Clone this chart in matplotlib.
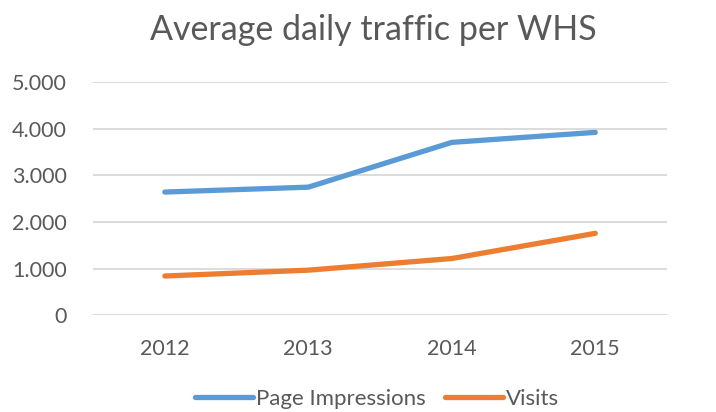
import matplotlib
matplotlib.use("Agg")
import matplotlib.pyplot as plt
from matplotlib.ticker import FuncFormatter

years = ["2012", "2013", "2014", "2015"]
page_impressions = [2640, 2745, 3705, 3920]
visits = [840, 965, 1215, 1755]
yticks = [0, 1000, 2000, 3000, 4000, 5000]

plt.rcParams['font.family'] = ['Lato', 'DejaVu Sans']
grey = '#595959'

fig = plt.figure(figsize=(7.16, 4.12), dpi=100)
ax = fig.add_axes([0.130, 0.235, 0.8016, 0.566])

x = range(len(years))
ax.plot(x, page_impressions, color='#5B9BD5', lw=3.8, solid_capstyle='round',
        solid_joinstyle='round', label='Page Impressions')
ax.plot(x, visits, color='#ED7D31', lw=3.8, solid_capstyle='round',
        solid_joinstyle='round', label='Visits')

ax.set_xlim(-0.5, 3.5)
ax.set_ylim(0, 5000)
ax.set_xticks(list(x))
ax.set_xticklabels(years)
ax.set_yticks(yticks)
ax.yaxis.set_major_formatter(FuncFormatter(lambda v, p: f"{int(v):,}".replace(",", ".")))

ax.grid(axis='y', color='#D9D9D9', lw=1.3)
ax.set_axisbelow(True)
for s in ax.spines.values():
    s.set_visible(False)
ax.tick_params(axis='both', length=0, labelsize=15.5, colors=grey)
ax.tick_params(axis='y', pad=19)
ax.tick_params(axis='x', pad=17)

fig.text(0.522, 0.927, 'Average daily traffic per WHS', ha='center', va='center',
         fontsize=24.5, color=grey)

fig.legend(loc='center', bbox_to_anchor=(0.527, 0.032), ncol=2, frameon=False,
           fontsize=16, labelcolor=grey, handlelength=2.6, handletextpad=0.15,
           columnspacing=0.85)

fig.savefig('out.png', dpi=100)
